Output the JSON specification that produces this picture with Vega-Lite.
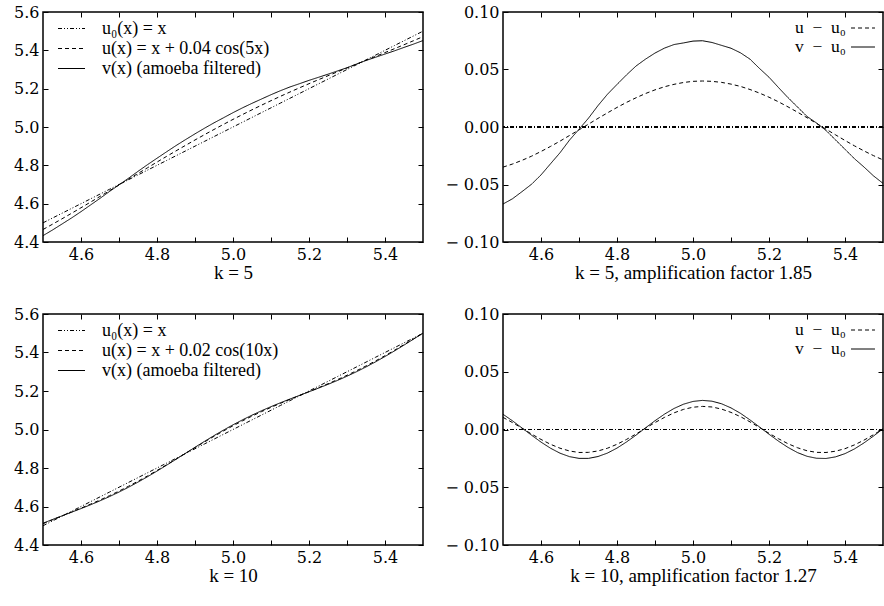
{
  "$schema": "https://vega.github.io/schema/vega-lite/v6.json",
  "padding": {"left": 12, "top": 3, "right": 0, "bottom": 0},
  "background": "white",
  "config": {
    "font": "Liberation Serif",
    "view": {"stroke": "black", "strokeWidth": 1.5},
    "axis": {
      "labelFont": "DejaVu Serif", "labelFontSize": 16, "labelColor": "black",
      "titleFont": "Liberation Serif", "titleFontSize": 19, "titleFontWeight": "normal", "titleColor": "black",
      "tickColor": "black", "tickSize": -5, "tickWidth": 1, "labelPadding": 9,
      "domain": false, "grid": false, "titlePadding": 1
    },
    "legend": {"labelFont": "Liberation Serif", "labelFontSize": 18, "labelColor": "black", "labelLimit": 400}
  },
  "datasets": {
    "k5": [
      {"x": 4.500, "u0": 4.500, "u": 4.4651, "v": 4.4330, "du": -0.0349, "dv": -0.0670},
      {"x": 4.525, "u0": 4.525, "u": 4.4928, "v": 4.4626, "du": -0.0322, "dv": -0.0624},
      {"x": 4.550, "u0": 4.550, "u": 4.5210, "v": 4.4938, "du": -0.0290, "dv": -0.0562},
      {"x": 4.575, "u0": 4.575, "u": 4.5496, "v": 4.5252, "du": -0.0254, "dv": -0.0498},
      {"x": 4.600, "u0": 4.600, "u": 4.5787, "v": 4.5583, "du": -0.0213, "dv": -0.0417},
      {"x": 4.625, "u0": 4.625, "u": 4.6081, "v": 4.5930, "du": -0.0169, "dv": -0.0320},
      {"x": 4.650, "u0": 4.650, "u": 4.6377, "v": 4.6276, "du": -0.0123, "dv": -0.0224},
      {"x": 4.675, "u0": 4.675, "u": 4.6676, "v": 4.6636, "du": -0.0074, "dv": -0.0114},
      {"x": 4.700, "u0": 4.700, "u": 4.6975, "v": 4.6980, "du": -0.0025, "dv": -0.0020},
      {"x": 4.725, "u0": 4.725, "u": 4.7275, "v": 4.7327, "du": 0.0025, "dv": 0.0077},
      {"x": 4.750, "u0": 4.750, "u": 4.7575, "v": 4.7686, "du": 0.0075, "dv": 0.0186},
      {"x": 4.775, "u0": 4.775, "u": 4.7873, "v": 4.8035, "du": 0.0123, "dv": 0.0285},
      {"x": 4.800, "u0": 4.800, "u": 4.8170, "v": 4.8370, "du": 0.0170, "dv": 0.0370},
      {"x": 4.825, "u0": 4.825, "u": 4.8464, "v": 4.8703, "du": 0.0214, "dv": 0.0453},
      {"x": 4.850, "u0": 4.850, "u": 4.8754, "v": 4.9030, "du": 0.0254, "dv": 0.0530},
      {"x": 4.875, "u0": 4.875, "u": 4.9041, "v": 4.9340, "du": 0.0291, "dv": 0.0590},
      {"x": 4.900, "u0": 4.900, "u": 4.9323, "v": 4.9643, "du": 0.0323, "dv": 0.0643},
      {"x": 4.925, "u0": 4.925, "u": 4.9600, "v": 4.9936, "du": 0.0350, "dv": 0.0686},
      {"x": 4.950, "u0": 4.950, "u": 4.9871, "v": 5.0217, "du": 0.0371, "dv": 0.0717},
      {"x": 4.975, "u0": 4.975, "u": 5.0137, "v": 5.0481, "du": 0.0387, "dv": 0.0731},
      {"x": 5.000, "u0": 5.000, "u": 5.0397, "v": 5.0747, "du": 0.0397, "dv": 0.0747},
      {"x": 5.025, "u0": 5.025, "u": 5.0650, "v": 5.1000, "du": 0.0400, "dv": 0.0750},
      {"x": 5.050, "u0": 5.050, "u": 5.0897, "v": 5.1235, "du": 0.0397, "dv": 0.0735},
      {"x": 5.075, "u0": 5.075, "u": 5.1138, "v": 5.1460, "du": 0.0388, "dv": 0.0710},
      {"x": 5.100, "u0": 5.100, "u": 5.1373, "v": 5.1685, "du": 0.0373, "dv": 0.0685},
      {"x": 5.125, "u0": 5.125, "u": 5.1603, "v": 5.1895, "du": 0.0353, "dv": 0.0645},
      {"x": 5.150, "u0": 5.150, "u": 5.1826, "v": 5.2090, "du": 0.0326, "dv": 0.0590},
      {"x": 5.175, "u0": 5.175, "u": 5.2045, "v": 5.2259, "du": 0.0295, "dv": 0.0509},
      {"x": 5.200, "u0": 5.200, "u": 5.2259, "v": 5.2433, "du": 0.0259, "dv": 0.0433},
      {"x": 5.225, "u0": 5.225, "u": 5.2469, "v": 5.2593, "du": 0.0219, "dv": 0.0343},
      {"x": 5.250, "u0": 5.250, "u": 5.2675, "v": 5.2755, "du": 0.0175, "dv": 0.0255},
      {"x": 5.275, "u0": 5.275, "u": 5.2879, "v": 5.2924, "du": 0.0129, "dv": 0.0174},
      {"x": 5.300, "u0": 5.300, "u": 5.3081, "v": 5.3092, "du": 0.0081, "dv": 0.0092},
      {"x": 5.325, "u0": 5.325, "u": 5.3281, "v": 5.3285, "du": 0.0031, "dv": 0.0035},
      {"x": 5.350, "u0": 5.350, "u": 5.3481, "v": 5.3470, "du": -0.0019, "dv": -0.0030},
      {"x": 5.375, "u0": 5.375, "u": 5.3682, "v": 5.3638, "du": -0.0068, "dv": -0.0112},
      {"x": 5.400, "u0": 5.400, "u": 5.3883, "v": 5.3806, "du": -0.0117, "dv": -0.0194},
      {"x": 5.425, "u0": 5.425, "u": 5.4086, "v": 5.3974, "du": -0.0164, "dv": -0.0276},
      {"x": 5.450, "u0": 5.450, "u": 5.4292, "v": 5.4152, "du": -0.0208, "dv": -0.0348},
      {"x": 5.475, "u0": 5.475, "u": 5.4501, "v": 5.4325, "du": -0.0249, "dv": -0.0425},
      {"x": 5.500, "u0": 5.500, "u": 5.4714, "v": 5.4510, "du": -0.0286, "dv": -0.0490}
    ],
    "k10": [
      {"x": 4.500, "u0": 4.500, "u": 4.5105, "v": 4.5132, "du": 0.0105, "dv": 0.0132},
      {"x": 4.525, "u0": 4.525, "u": 4.5310, "v": 4.5325, "du": 0.0060, "dv": 0.0075},
      {"x": 4.550, "u0": 4.550, "u": 4.5511, "v": 4.5513, "du": 0.0011, "dv": 0.0013},
      {"x": 4.575, "u0": 4.575, "u": 4.5711, "v": 4.5701, "du": -0.0039, "dv": -0.0049},
      {"x": 4.600, "u0": 4.600, "u": 4.5914, "v": 4.5891, "du": -0.0086, "dv": -0.0109},
      {"x": 4.625, "u0": 4.625, "u": 4.6122, "v": 4.6088, "du": -0.0128, "dv": -0.0162},
      {"x": 4.650, "u0": 4.650, "u": 4.6338, "v": 4.6295, "du": -0.0162, "dv": -0.0205},
      {"x": 4.675, "u0": 4.675, "u": 4.6564, "v": 4.6515, "du": -0.0186, "dv": -0.0235},
      {"x": 4.700, "u0": 4.700, "u": 4.6801, "v": 4.6750, "du": -0.0199, "dv": -0.0250},
      {"x": 4.725, "u0": 4.725, "u": 4.7052, "v": 4.7000, "du": -0.0198, "dv": -0.0250},
      {"x": 4.750, "u0": 4.750, "u": 4.7314, "v": 4.7266, "du": -0.0186, "dv": -0.0234},
      {"x": 4.775, "u0": 4.775, "u": 4.7588, "v": 4.7546, "du": -0.0162, "dv": -0.0204},
      {"x": 4.800, "u0": 4.800, "u": 4.7872, "v": 4.7839, "du": -0.0128, "dv": -0.0161},
      {"x": 4.825, "u0": 4.825, "u": 4.8164, "v": 4.8142, "du": -0.0086, "dv": -0.0108},
      {"x": 4.850, "u0": 4.850, "u": 4.8461, "v": 4.8451, "du": -0.0039, "dv": -0.0049},
      {"x": 4.875, "u0": 4.875, "u": 4.8761, "v": 4.8764, "du": 0.0011, "dv": 0.0014},
      {"x": 4.900, "u0": 4.900, "u": 4.9060, "v": 4.9076, "du": 0.0060, "dv": 0.0076},
      {"x": 4.925, "u0": 4.925, "u": 4.9355, "v": 4.9383, "du": 0.0105, "dv": 0.0133},
      {"x": 4.950, "u0": 4.950, "u": 4.9644, "v": 4.9682, "du": 0.0144, "dv": 0.0182},
      {"x": 4.975, "u0": 4.975, "u": 4.9924, "v": 4.9969, "du": 0.0174, "dv": 0.0219},
      {"x": 5.000, "u0": 5.000, "u": 5.0193, "v": 5.0243, "du": 0.0193, "dv": 0.0243},
      {"x": 5.025, "u0": 5.025, "u": 5.0450, "v": 5.0502, "du": 0.0200, "dv": 0.0252},
      {"x": 5.050, "u0": 5.050, "u": 5.0695, "v": 5.0745, "du": 0.0195, "dv": 0.0245},
      {"x": 5.075, "u0": 5.075, "u": 5.0927, "v": 5.0973, "du": 0.0177, "dv": 0.0223},
      {"x": 5.100, "u0": 5.100, "u": 5.1148, "v": 5.1187, "du": 0.0148, "dv": 0.0187},
      {"x": 5.125, "u0": 5.125, "u": 5.1361, "v": 5.1390, "du": 0.0111, "dv": 0.0140},
      {"x": 5.150, "u0": 5.150, "u": 5.1566, "v": 5.1583, "du": 0.0066, "dv": 0.0083},
      {"x": 5.175, "u0": 5.175, "u": 5.1767, "v": 5.1772, "du": 0.0017, "dv": 0.0022},
      {"x": 5.200, "u0": 5.200, "u": 5.1967, "v": 5.1959, "du": -0.0033, "dv": -0.0041},
      {"x": 5.225, "u0": 5.225, "u": 5.2170, "v": 5.2149, "du": -0.0080, "dv": -0.0101},
      {"x": 5.250, "u0": 5.250, "u": 5.2377, "v": 5.2345, "du": -0.0123, "dv": -0.0155},
      {"x": 5.275, "u0": 5.275, "u": 5.2592, "v": 5.2550, "du": -0.0158, "dv": -0.0200},
      {"x": 5.300, "u0": 5.300, "u": 5.2816, "v": 5.2768, "du": -0.0184, "dv": -0.0232},
      {"x": 5.325, "u0": 5.325, "u": 5.3052, "v": 5.3001, "du": -0.0198, "dv": -0.0249},
      {"x": 5.350, "u0": 5.350, "u": 5.3301, "v": 5.3249, "du": -0.0199, "dv": -0.0251},
      {"x": 5.375, "u0": 5.375, "u": 5.3562, "v": 5.3513, "du": -0.0188, "dv": -0.0237},
      {"x": 5.400, "u0": 5.400, "u": 5.3834, "v": 5.3791, "du": -0.0166, "dv": -0.0209},
      {"x": 5.425, "u0": 5.425, "u": 5.4117, "v": 5.4082, "du": -0.0133, "dv": -0.0168},
      {"x": 5.450, "u0": 5.450, "u": 5.4408, "v": 5.4384, "du": -0.0092, "dv": -0.0116},
      {"x": 5.475, "u0": 5.475, "u": 5.4705, "v": 5.4693, "du": -0.0045, "dv": -0.0057},
      {"x": 5.500, "u0": 5.500, "u": 5.5004, "v": 5.5006, "du": 0.0004, "dv": 0.0006}
    ]
  },
  "spacing": 22,
  "resolve": {"scale": {"strokeDash": "independent"}, "legend": {"strokeDash": "independent"}},
  "vconcat": [
    {
      "spacing": 18,
      "resolve": {"scale": {"strokeDash": "independent"}, "legend": {"strokeDash": "independent"}},
      "hconcat": [
        {
          "width": 380, "height": 230,
          "data": {"name": "k5"},
          "resolve": {"axis": {"x": "independent", "y": "independent"}},
          "layer": [
            {
              "transform": [{"fold": ["u0", "u", "v"], "as": ["s", "val"]}],
              "mark": {"type": "line", "stroke": "black", "strokeWidth": 1},
              "encoding": {
                "x": {"field": "x", "type": "quantitative", "scale": {"domain": [4.5, 5.5], "nice": false, "zero": false},
                  "axis": {"orient": "bottom", "values": [4.6, 4.7, 4.8, 4.9, 5.0, 5.1, 5.2, 5.3, 5.4], "labelExpr": "round(datum.value*10)%2==0 ? format(datum.value,'.1f') : ''", "title": "k = 5"}},
                "y": {"field": "val", "type": "quantitative", "scale": {"domain": [4.4, 5.6], "nice": false, "zero": false},
                  "axis": {"orient": "left", "values": [4.4, 4.6, 4.8, 5.0, 5.2, 5.4, 5.6], "format": ".1f", "title": null}},
                "strokeDash": {"field": "s", "type": "nominal",
                  "scale": {"domain": ["u0", "u", "v"], "range": [[4, 2, 1, 2, 1, 2], [4, 3], [1, 0]]},
                  "legend": {"orient": "top-left", "offset": 6, "title": null, "symbolType": "M-1.35,0H1.35", "symbolSize": 400, "symbolStrokeWidth": 1, "symbolStrokeColor": "black", "symbolFillColor": "transparent", "symbolOffset": 12, "padding": 0, "rowPadding": 0, "labelOffset": 20,
                    "labelExpr": "datum.value=='u0' ? 'u\u2080(x) = x' : datum.value=='u' ? 'u(x) = x + 0.04 cos(5x)' : 'v(x) (amoeba filtered)'"}}
              }
            },
            {
              "mark": {"type": "line", "opacity": 0},
              "encoding": {
                "x": {"field": "x", "type": "quantitative", "scale": {"domain": [4.5, 5.5], "nice": false, "zero": false},
                  "axis": {"orient": "top", "values": [4.6, 4.7, 4.8, 4.9, 5.0, 5.1, 5.2, 5.3, 5.4], "labels": false, "title": null}},
                "y": {"field": "u0", "type": "quantitative", "scale": {"domain": [4.4, 5.6], "nice": false, "zero": false},
                  "axis": {"orient": "right", "values": [4.4, 4.6, 4.8, 5.0, 5.2, 5.4, 5.6], "labels": false, "title": null}}
              }
            }
          ]
        },
        {
          "width": 380, "height": 230,
          "data": {"name": "k5"},
          "resolve": {"axis": {"x": "independent", "y": "independent"}},
          "layer": [
            {
              "mark": {"type": "rule", "stroke": "black", "strokeWidth": 0.8, "strokeDash": [4, 2, 1, 2]},
              "encoding": {"y": {"datum": 0, "type": "quantitative", "scale": {"domain": [-0.1, 0.1], "nice": false, "zero": false}, "axis": null}}
            },
            {
              "transform": [{"fold": ["du", "dv"], "as": ["s", "val"]}],
              "mark": {"type": "line", "stroke": "black", "strokeWidth": 1},
              "encoding": {
                "x": {"field": "x", "type": "quantitative", "scale": {"domain": [4.5, 5.5], "nice": false, "zero": false},
                  "axis": {"orient": "bottom", "values": [4.6, 4.7, 4.8, 4.9, 5.0, 5.1, 5.2, 5.3, 5.4], "labelExpr": "round(datum.value*10)%2==0 ? format(datum.value,'.1f') : ''", "title": "k = 5, amplification factor 1.85"}},
                "y": {"field": "val", "type": "quantitative", "scale": {"domain": [-0.1, 0.1], "nice": false, "zero": false},
                  "axis": {"orient": "left", "values": [-0.1, -0.05, 0, 0.05, 0.1], "labelExpr": "datum.value < -0.001 ? '\u2212 ' + format(-datum.value,'.2f') : format(abs(datum.value),'.2f')", "title": null}},
                "strokeDash": {"field": "s", "type": "nominal",
                  "scale": {"domain": ["du", "dv"], "range": [[4, 3], [1, 0]]},
                  "legend": {"orient": "top-right", "offset": 6, "title": null, "symbolType": "M-1.26,0H1.26", "symbolSize": 361, "symbolStrokeWidth": 1, "symbolStrokeColor": "black", "symbolFillColor": "transparent", "padding": 0, "rowPadding": 0, "labelFontSize": 17.5, "labelAlign": "left", "labelOffset": -78,
                    "labelExpr": "datum.value=='du' ? 'u\u2002\u2212\u2002u\u2080' : 'v\u2002\u2212\u2002u\u2080'"}}
              }
            },
            {
              "mark": {"type": "line", "opacity": 0},
              "encoding": {
                "x": {"field": "x", "type": "quantitative", "scale": {"domain": [4.5, 5.5], "nice": false, "zero": false},
                  "axis": {"orient": "top", "values": [4.6, 4.7, 4.8, 4.9, 5.0, 5.1, 5.2, 5.3, 5.4], "labels": false, "title": null}},
                "y": {"field": "du", "type": "quantitative", "scale": {"domain": [-0.1, 0.1], "nice": false, "zero": false},
                  "axis": {"orient": "right", "values": [-0.1, -0.05, 0, 0.05, 0.1], "labels": false, "title": null}}
              }
            }
          ]
        }
      ]
    },
    {
      "spacing": 18,
      "resolve": {"scale": {"strokeDash": "independent"}, "legend": {"strokeDash": "independent"}},
      "hconcat": [
        {
          "width": 380, "height": 231,
          "data": {"name": "k10"},
          "resolve": {"axis": {"x": "independent", "y": "independent"}},
          "layer": [
            {
              "transform": [{"fold": ["u0", "u", "v"], "as": ["s", "val"]}],
              "mark": {"type": "line", "stroke": "black", "strokeWidth": 1},
              "encoding": {
                "x": {"field": "x", "type": "quantitative", "scale": {"domain": [4.5, 5.5], "nice": false, "zero": false},
                  "axis": {"orient": "bottom", "values": [4.6, 4.7, 4.8, 4.9, 5.0, 5.1, 5.2, 5.3, 5.4], "labelExpr": "round(datum.value*10)%2==0 ? format(datum.value,'.1f') : ''", "title": "k = 10"}},
                "y": {"field": "val", "type": "quantitative", "scale": {"domain": [4.4, 5.6], "nice": false, "zero": false},
                  "axis": {"orient": "left", "values": [4.4, 4.6, 4.8, 5.0, 5.2, 5.4, 5.6], "format": ".1f", "title": null}},
                "strokeDash": {"field": "s", "type": "nominal",
                  "scale": {"domain": ["u0", "u", "v"], "range": [[4, 2, 1, 2, 1, 2], [4, 3], [1, 0]]},
                  "legend": {"orient": "top-left", "offset": 6, "title": null, "symbolType": "M-1.35,0H1.35", "symbolSize": 400, "symbolStrokeWidth": 1, "symbolStrokeColor": "black", "symbolFillColor": "transparent", "symbolOffset": 12, "padding": 0, "rowPadding": 0, "labelOffset": 20,
                    "labelExpr": "datum.value=='u0' ? 'u\u2080(x) = x' : datum.value=='u' ? 'u(x) = x + 0.02 cos(10x)' : 'v(x) (amoeba filtered)'"}}
              }
            },
            {
              "mark": {"type": "line", "opacity": 0},
              "encoding": {
                "x": {"field": "x", "type": "quantitative", "scale": {"domain": [4.5, 5.5], "nice": false, "zero": false},
                  "axis": {"orient": "top", "values": [4.6, 4.7, 4.8, 4.9, 5.0, 5.1, 5.2, 5.3, 5.4], "labels": false, "title": null}},
                "y": {"field": "u0", "type": "quantitative", "scale": {"domain": [4.4, 5.6], "nice": false, "zero": false},
                  "axis": {"orient": "right", "values": [4.4, 4.6, 4.8, 5.0, 5.2, 5.4, 5.6], "labels": false, "title": null}}
              }
            }
          ]
        },
        {
          "width": 380, "height": 231,
          "data": {"name": "k10"},
          "resolve": {"axis": {"x": "independent", "y": "independent"}},
          "layer": [
            {
              "mark": {"type": "rule", "stroke": "black", "strokeWidth": 0.8, "strokeDash": [4, 2, 1, 2]},
              "encoding": {"y": {"datum": 0, "type": "quantitative", "scale": {"domain": [-0.1, 0.1], "nice": false, "zero": false}, "axis": null}}
            },
            {
              "transform": [{"fold": ["du", "dv"], "as": ["s", "val"]}],
              "mark": {"type": "line", "stroke": "black", "strokeWidth": 1},
              "encoding": {
                "x": {"field": "x", "type": "quantitative", "scale": {"domain": [4.5, 5.5], "nice": false, "zero": false},
                  "axis": {"orient": "bottom", "values": [4.6, 4.7, 4.8, 4.9, 5.0, 5.1, 5.2, 5.3, 5.4], "labelExpr": "round(datum.value*10)%2==0 ? format(datum.value,'.1f') : ''", "title": "k = 10, amplification factor 1.27"}},
                "y": {"field": "val", "type": "quantitative", "scale": {"domain": [-0.1, 0.1], "nice": false, "zero": false},
                  "axis": {"orient": "left", "values": [-0.1, -0.05, 0, 0.05, 0.1], "labelExpr": "datum.value < -0.001 ? '\u2212 ' + format(-datum.value,'.2f') : format(abs(datum.value),'.2f')", "title": null}},
                "strokeDash": {"field": "s", "type": "nominal",
                  "scale": {"domain": ["du", "dv"], "range": [[4, 3], [1, 0]]},
                  "legend": {"orient": "top-right", "offset": 6, "title": null, "symbolType": "M-1.26,0H1.26", "symbolSize": 361, "symbolStrokeWidth": 1, "symbolStrokeColor": "black", "symbolFillColor": "transparent", "padding": 0, "rowPadding": 0, "labelFontSize": 17.5, "labelAlign": "left", "labelOffset": -78,
                    "labelExpr": "datum.value=='du' ? 'u\u2002\u2212\u2002u\u2080' : 'v\u2002\u2212\u2002u\u2080'"}}
              }
            },
            {
              "mark": {"type": "line", "opacity": 0},
              "encoding": {
                "x": {"field": "x", "type": "quantitative", "scale": {"domain": [4.5, 5.5], "nice": false, "zero": false},
                  "axis": {"orient": "top", "values": [4.6, 4.7, 4.8, 4.9, 5.0, 5.1, 5.2, 5.3, 5.4], "labels": false, "title": null}},
                "y": {"field": "du", "type": "quantitative", "scale": {"domain": [-0.1, 0.1], "nice": false, "zero": false},
                  "axis": {"orient": "right", "values": [-0.1, -0.05, 0, 0.05, 0.1], "labels": false, "title": null}}
              }
            }
          ]
        }
      ]
    }
  ]
}
